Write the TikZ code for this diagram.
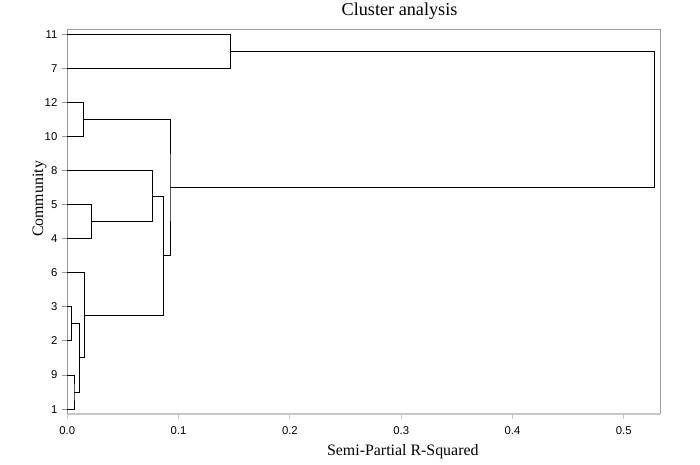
\documentclass[tikz,border=0pt]{standalone}
\usepackage{fontspec}
\setmainfont{Liberation Serif}
\newfontfamily\ticksans{Liberation Sans}
\begin{document}
\begin{tikzpicture}[x=1pt,y=-1pt,
  link/.style={black,line width=1pt},
  framegray/.style={draw=black!38,line width=1pt},
  axisgray/.style={draw=black!40,line width=1pt},
  bottomgray/.style={draw=black!22,line width=1.2pt},
  ticklab/.style={font=\ticksans\fontsize{11.3}{13}\selectfont,inner sep=0pt},
  axlab/.style={font=\fontsize{15.9}{18}\selectfont,inner sep=0pt},
  titlelab/.style={font=\fontsize{18.2}{21}\selectfont,inner sep=0pt}]
\useasboundingbox (0,0) rectangle (700,464);
% frame
\draw[framegray] (67,29) -- (660,29) -- (660,414);
\draw[bottomgray] (67,414) -- (660,414);
\draw[axisgray] (67,29) -- (67,418);
% x ticks
\foreach \v/\px in {0.0/67.3,0.1/178.6,0.2/289.9,0.3/401.2,0.4/512.5,0.5/623.8}{
  \draw[bottomgray,line width=1pt] (\px,414) -- (\px,418.5);
  \node[ticklab,anchor=base] (xt\v) at (\px,434.3) {\v};
}
% leaves
\foreach \lab/\i in {11/0,7/1,12/2,10/3,8/4,5/5,4/6,6/7,3/8,2/9,9/10,1/11}{
  \pgfmathsetmacro{\yy}{34.1+\i*34.09}
  \coordinate (l\lab) at (67,\yy);
  \draw[axisgray] (62,\yy) -- (67,\yy);
  \node[ticklab,anchor=base east] (yt\lab) at (57.5,\yy+3.9) {\lab};
}
% merge points
\coordinate (ma) at (230.3,51.15);
\coordinate (mb) at (83.3,119.35);
\coordinate (mc) at (91.3,221.55);
\coordinate (md) at (152.3,196.0);
\coordinate (me) at (71.7,323.85);
\coordinate (mf) at (74.0,392.05);
\coordinate (mg) at (79.3,357.95);
\coordinate (mh) at (84.3,315.3);
\coordinate (mi) at (163.3,255.65);
\coordinate (mj) at (170.0,187.5);
\coordinate (mk) at (654.3,119.3);
% links
\draw[link] (l11) -| (ma) |- (l7);
\draw[link] (l12) -| (mb) |- (l10);
\draw[link] (l5) -| (mc) |- (l4);
\draw[link] (l8) -| (md) |- (mc);
\draw[link] (l3) -| (me) |- (l2);
\draw[link] (l9) -| (mf) |- (l1);
\draw[link] (me) -| (mg) |- (mf);
\draw[link] (l6) -| (mh) |- (mg);
\draw[link] (md) -| (mi) |- (mh);
\draw[link] (mb) -| (mj) |- (mi);
\draw[link] (ma) -| (mk) |- (mj);
% labels
\node[titlelab,anchor=base] (title) at (399.5,15.5) {Cluster analysis};
\node[axlab,anchor=base] (xlab) at (402.8,455) {Semi-Partial R-Squared};
\node[axlab,rotate=90] (ylab) at (39.5,199) {Community};
\end{tikzpicture}
\end{document}
